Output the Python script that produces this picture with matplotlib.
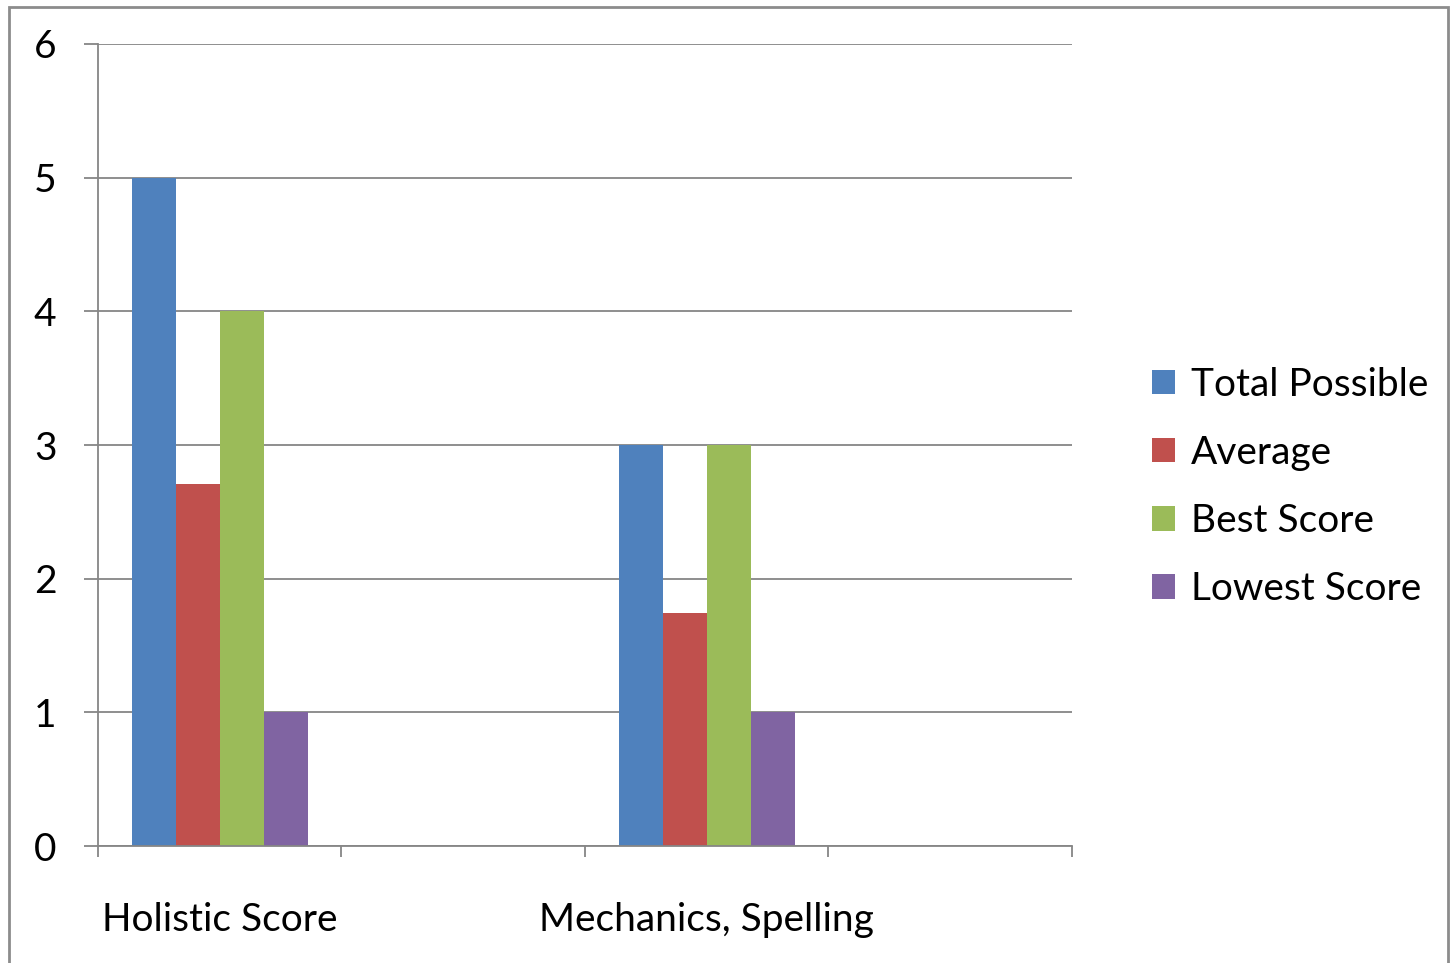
import numpy as np
import matplotlib.pyplot as plt
from matplotlib.patches import Rectangle

plt.rcParams['font.family'] = ['Lato', 'DejaVu Sans']

# 数据：四个类别槽，第二和第四个为空
categories = ['Holistic Score', '', 'Mechanics, Spelling', '']
series_names = ['Total Possible', 'Average', 'Best Score', 'Lowest Score']
total_possible = [5, 0, 3, 0]
average = [2.71, 0, 1.74, 0]
best_score = [4, 0, 3, 0]
lowest_score = [1, 0, 1, 0]
colors = ['#4F81BD', '#C0504D', '#9BBB59', '#8064A2']

series = [total_possible, average, best_score, lowest_score]

fig = plt.figure(figsize=(14.52, 9.63), dpi=100)
ax = fig.add_axes([98/1452, 1-846/963, (1072-98)/1452, (846-44)/963])

x = np.arange(len(categories))
bw = 0.181
for k, (vals, name, c) in enumerate(zip(series, series_names, colors)):
    ax.bar(x + (k - 1.5) * bw, vals, bw, color=c, label=name, zorder=3)

ax.set_xlim(-0.5, len(categories) - 0.5)
ax.set_ylim(0, 6)
ax.set_yticks(range(7))
ax.yaxis.grid(True, color='#868686', linewidth=1.3, zorder=0)

# 主刻度在类别边界，标签放在次刻度（类别中心）
ax.set_xticks(np.arange(-0.5, len(categories), 1.0))
ax.set_xticklabels([])
ax.set_xticks(x, minor=True)
ax.set_xticklabels(categories, minor=True, fontsize=28)
ax.tick_params(axis='x', which='major', length=8, width=1.3, color='#868686', direction='out')
ax.tick_params(axis='x', which='minor', length=0, pad=40)
ax.tick_params(axis='y', length=10, width=1.3, color='#868686', labelsize=28, pad=20)

for s in ['top', 'right']:
    ax.spines[s].set_visible(False)
for s in ['left', 'bottom']:
    ax.spines[s].set_color('#868686')
    ax.spines[s].set_linewidth(1.3)
ax.spines['left'].set_zorder(4)
ax.spines['bottom'].set_zorder(4)

leg = fig.legend(loc='center left', bbox_to_anchor=(1117/1452, 1-487/963),
                 frameon=False, fontsize=28, handlelength=0.6, handleheight=0.6,
                 handletextpad=0.4, labelspacing=0.83)

# 外边框
fig.patches.append(Rectangle((9/1452, -0.02), (1448-9)/1452, 1.02-7/963,
                             transform=fig.transFigure, fill=False,
                             edgecolor='#8c8c8c', linewidth=2))

fig.savefig('out.png', dpi=100)
